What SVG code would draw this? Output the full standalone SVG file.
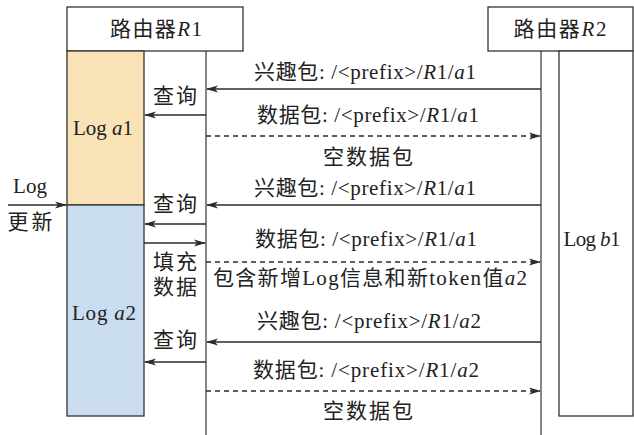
<svg xmlns="http://www.w3.org/2000/svg" width="634" height="435" viewBox="0 0 634 435">
<defs>
<marker id="ah" markerWidth="12" markerHeight="8" refX="11" refY="4" orient="auto" markerUnits="userSpaceOnUse">
<path d="M0,0.5 L12,4 L0,7.5 L3,4 z" fill="#2b2b2b"/>
</marker>
</defs>
<style>
text{font-family:"Liberation Serif","Noto Sans CJK SC",serif;font-size:21px;fill:#222;text-anchor:middle}
.it{font-style:italic}
.box{fill:#fff;stroke:#333;stroke-width:1.3}
.life{stroke:#444;stroke-width:1.3;fill:none}
.msg{stroke:#2b2b2b;stroke-width:1.3;fill:none;marker-end:url(#ah)}
.dash{stroke-dasharray:5,4}
</style>
<rect width="634" height="435" fill="#fff"/>
<g id="lifelines">
<line class="life" x1="206" y1="51" x2="206" y2="435"/>
<line class="life" x1="541" y1="51" x2="541" y2="435"/>
</g>
<g id="R1">
<rect class="box" x="67" y="7" width="176" height="44"/>
<text x="156" y="36" textLength="92" lengthAdjust="spacing">路由器<tspan class="it">R</tspan>1</text>
</g>
<g id="R2">
<rect class="box" x="488" y="7" width="145" height="44"/>
<text x="560" y="36" textLength="93" lengthAdjust="spacing">路由器<tspan class="it">R</tspan>2</text>
</g>
<g id="loga1">
<rect x="67" y="51" width="77" height="154" fill="#f8e2b6" stroke="#333" stroke-width="1.3"/>
<text x="103" y="135" textLength="60" lengthAdjust="spacing">Log <tspan class="it">a</tspan>1</text>
</g>
<g id="loga2">
<rect x="67" y="205" width="77" height="211" fill="#c9dcf0" stroke="#333" stroke-width="1.3"/>
<text x="104" y="320" textLength="64" lengthAdjust="spacing">Log <tspan class="it">a</tspan>2</text>
</g>
<g id="logb1">
<rect x="559" y="51" width="74" height="365" fill="#fff" stroke="#333" stroke-width="1.3"/>
<text x="592" y="246" textLength="57" lengthAdjust="spacing">Log <tspan class="it">b</tspan>1</text>
</g>
<g id="connectors">
<line class="msg" x1="541" y1="89" x2="207" y2="89"/>
<line class="msg" x1="206" y1="115" x2="145" y2="115"/>
<line class="msg dash" x1="206" y1="136" x2="540" y2="136"/>
<line class="msg" x1="8" y1="205" x2="66" y2="205"/>
<line class="msg" x1="541" y1="205" x2="207" y2="205"/>
<line class="msg" x1="206" y1="224" x2="145" y2="224"/>
<line class="msg" x1="144" y1="243" x2="205" y2="243"/>
<line class="msg dash" x1="206" y1="262" x2="540" y2="262"/>
<line class="msg" x1="541" y1="342" x2="207" y2="342"/>
<line class="msg" x1="206" y1="362" x2="145" y2="362"/>
<line class="msg dash" x1="206" y1="391" x2="540" y2="391"/>
</g>
<g id="labels">
<text x="365" y="79" textLength="222" lengthAdjust="spacing">兴趣包: /&lt;prefix&gt;/<tspan class="it">R</tspan>1/<tspan class="it">a</tspan>1</text>
<text x="175" y="103" textLength="44" lengthAdjust="spacing">查询</text>
<text x="368" y="122" textLength="222" lengthAdjust="spacing">数据包: /&lt;prefix&gt;/<tspan class="it">R</tspan>1/<tspan class="it">a</tspan>1</text>
<text x="368" y="164" textLength="90" lengthAdjust="spacing">空数据包</text>
<text x="30" y="193" textLength="34" lengthAdjust="spacing">Log</text>
<text x="365" y="195" textLength="222" lengthAdjust="spacing">兴趣包: /&lt;prefix&gt;/<tspan class="it">R</tspan>1/<tspan class="it">a</tspan>1</text>
<text x="175" y="211" textLength="44" lengthAdjust="spacing">查询</text>
<text x="30" y="229" textLength="45" lengthAdjust="spacing">更新</text>
<text x="366" y="246" textLength="222" lengthAdjust="spacing">数据包: /&lt;prefix&gt;/<tspan class="it">R</tspan>1/<tspan class="it">a</tspan>1</text>
<text x="175" y="269" textLength="44" lengthAdjust="spacing">填充</text>
<text x="370" y="285" textLength="314" lengthAdjust="spacing">包含新增Log信息和新token值<tspan class="it">a</tspan>2</text>
<text x="175" y="294" textLength="44" lengthAdjust="spacing">数据</text>
<text x="369" y="328" textLength="224" lengthAdjust="spacing">兴趣包: /&lt;prefix&gt;/<tspan class="it">R</tspan>1/<tspan class="it">a</tspan>2</text>
<text x="175" y="347" textLength="44" lengthAdjust="spacing">查询</text>
<text x="366" y="377" textLength="226" lengthAdjust="spacing">数据包: /&lt;prefix&gt;/<tspan class="it">R</tspan>1/<tspan class="it">a</tspan>2</text>
<text x="368" y="418" textLength="90" lengthAdjust="spacing">空数据包</text>
</g>
</svg>
